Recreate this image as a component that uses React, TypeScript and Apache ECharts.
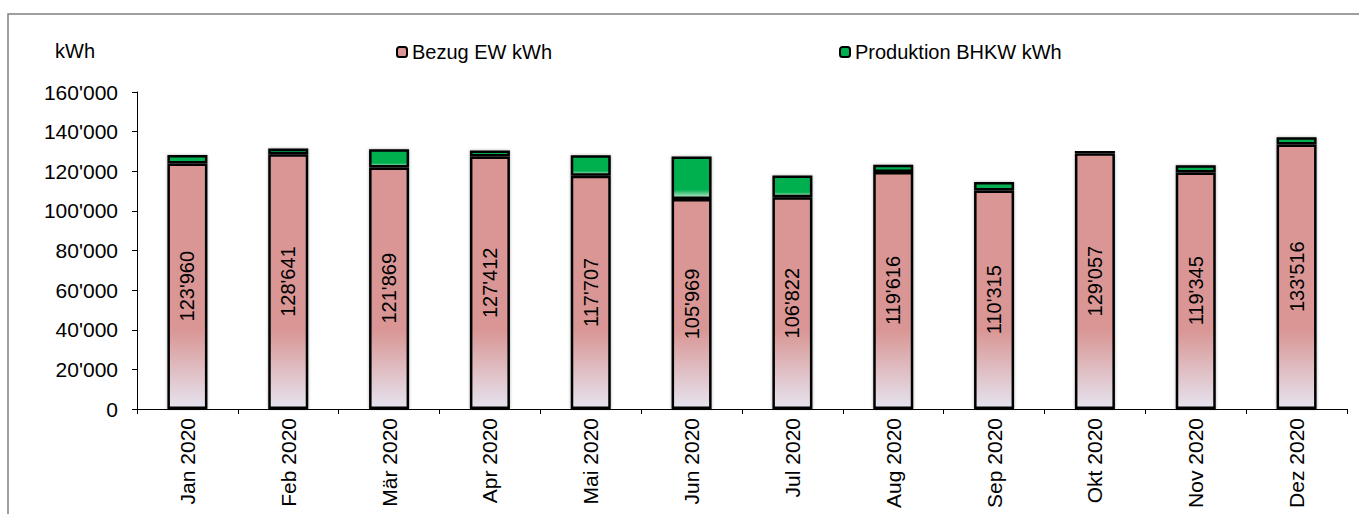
import React, { useEffect, useRef } from "react";
import * as echarts from "echarts";

const categories = [
  "Jan 2020", "Feb 2020", "Mär 2020", "Apr 2020", "Mai 2020", "Jun 2020",
  "Jul 2020", "Aug 2020", "Sep 2020", "Okt 2020", "Nov 2020", "Dez 2020",
];
const bezugEW = [123960, 128641, 121869, 127412, 117707, 105969, 106822, 119616, 110315, 129057, 119345, 133516];
const produktionBHKW = [4300, 2800, 9200, 3000, 10400, 21500, 11000, 3700, 4200, 1300, 3700, 3600];
const seriesNames = ["Bezug EW kWh", "Produktion BHKW kWh"];
const unitLabel = "kWh";

const fmt = (v: number) => String(Math.round(v)).replace(/\B(?=(\d{3})+(?!\d))/g, "'");

const FONT = "'Liberation Sans', Arial, sans-serif";

export default function App() {
  const ref = useRef<HTMLDivElement>(null);
  useEffect(() => {
    if (!ref.current) return;
    const chart = echarts.init(ref.current, null, { renderer: "svg" });
    const pink = new echarts.graphic.LinearGradient(
      0, 330, 0, 409,
      [
        { offset: 0, color: "#D99694" },
        { offset: 1, color: "#E5E4F0" },
      ],
      true
    );
    const green = new echarts.graphic.LinearGradient(0, 0, 0, 1, [
      { offset: 0, color: "#00B050" },
      { offset: 0.8, color: "#00B050" },
      { offset: 1, color: "#c4e9d0" },
    ]);
    const legendCommon = {
      top: 37,
      itemWidth: 10,
      itemHeight: 10,
      itemGap: 5,
      textStyle: { fontFamily: FONT, fontSize: 20, color: "#000" },
    };
    chart.setOption({
      animation: false,
      backgroundColor: "#fff",
      textStyle: { fontFamily: FONT },
      graphic: [
        {
          type: "polyline",
          shape: { points: [[8, 514], [8, 14], [1359, 14]] },
          style: { stroke: "#808080", lineWidth: 1.5, fill: null },
          silent: true,
        },
        {
          type: "text",
          left: 55,
          top: 41,
          style: { text: unitLabel, font: `20px ${FONT}`, fill: "#000" },
        },
      ],
      legend: [
        {
          ...legendCommon,
          left: 391,
          data: [{ name: seriesNames[0], itemStyle: { color: "#D99694", borderColor: "#000", borderWidth: 2 } }],
        },
        {
          ...legendCommon,
          left: 834,
          data: [{ name: seriesNames[1], itemStyle: { color: "#00B050", borderColor: "#000", borderWidth: 2 } }],
        },
      ],
      grid: { left: 137, right: 12, top: 92, bottom: 105, containLabel: false },
      xAxis: {
        type: "category",
        data: categories,
        boundaryGap: true,
        axisLine: { lineStyle: { color: "#000", width: 1 } },
        axisTick: { show: true, length: 5, alignWithLabel: false, lineStyle: { color: "#000" } },
        axisLabel: {
          rotate: 90,
          margin: 9,
          color: "#000",
          fontSize: 21,
          fontFamily: FONT,
          interval: 0,
        },
      },
      yAxis: {
        type: "value",
        min: 0,
        max: 160000,
        interval: 20000,
        splitLine: { show: false },
        axisLine: { show: true, lineStyle: { color: "#000", width: 1 } },
        axisTick: { show: true, length: 5, lineStyle: { color: "#000" } },
        axisLabel: {
          margin: 19,
          color: "#000",
          fontSize: 21,
          fontFamily: FONT,
          formatter: (v: number) => fmt(v),
        },
      },
      series: [
        {
          name: seriesNames[0],
          type: "bar",
          stack: "total",
          barWidth: 40,
          data: bezugEW,
          itemStyle: {
            color: pink,
            borderColor: "#000",
            borderWidth: 2.5,
            shadowBlur: 3,
            shadowColor: "rgba(0,0,0,0.3)",
          },
          label: {
            show: true,
            position: "inside",
            rotate: 90,
            color: "#000",
            fontSize: 20,
            fontFamily: FONT,
            formatter: (p: any) => fmt(p.value),
          },
        },
        {
          name: seriesNames[1],
          type: "bar",
          stack: "total",
          barWidth: 40,
          data: produktionBHKW,
          itemStyle: {
            color: green,
            borderColor: "#000",
            borderWidth: 2.5,
            shadowBlur: 3,
            shadowColor: "rgba(0,0,0,0.3)",
          },
        },
      ],
    });
    return () => chart.dispose();
  }, []);
  return (
    <div
      ref={ref}
      style={{ position: "absolute", left: 0, top: 0, width: 1359, height: 514 }}
    />
  );
}
